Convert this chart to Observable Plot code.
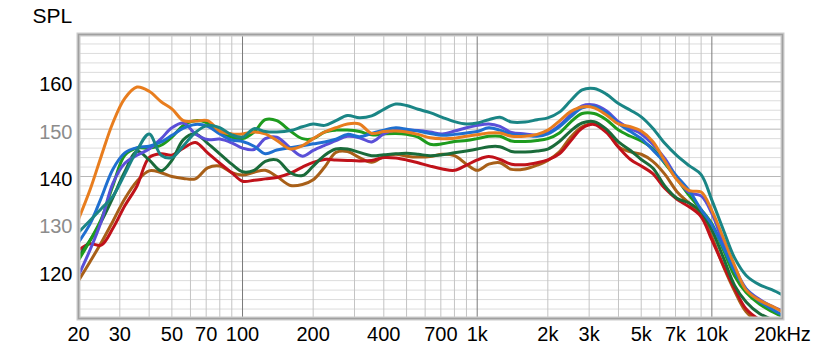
<!DOCTYPE html>
<html><head><meta charset="utf-8">
<script src="https://cdn.jsdelivr.net/npm/d3@7"></script>
<script src="https://cdn.jsdelivr.net/npm/@observablehq/plot@0.6"></script>
<style>body{margin:0;background:#fff}</style>
</head><body><div id="chart"></div>
<script>
const freqs = [20,22.4,25,28,31.5,35.5,40,45,50,56,63,71,80,90,100,112,125,140,160,180,200,224,250,280,315,355,400,450,500,560,630,710,800,900,1000,1120,1250,1400,1600,1800,2000,2240,2500,2800,3150,3550,4000,4500,5000,5600,6300,7100,8000,9000,10000,11200,12500,14000,16000,18000,20000];

const orange = [131.0,137.2,144.3,151.3,156.5,158.9,158.0,155.8,154.3,151.8,151.7,151.8,149.6,149.0,149.0,149.4,149.0,147.6,145.8,146.5,148.0,149.4,150.3,151.1,151.1,149.1,149.5,149.6,149.4,148.9,148.2,148.0,148.1,148.5,148.8,149.2,149.2,148.5,148.5,148.9,149.8,151.7,153.7,154.7,154.5,153.0,151.1,150.5,149.6,147.4,143.3,139.3,137.0,136.7,132.8,127.0,121.2,116.0,113.8,112.6,111.4];
const teal = [128.2,130.7,133.2,135.8,140.5,145.5,149.0,144.5,144.0,146.5,149.3,150.8,150.3,148.8,148.3,150.1,149.5,149.4,149.7,150.5,151.1,150.8,151.8,152.9,152.4,152.8,154.2,155.3,155.0,154.2,153.5,152.5,151.6,151.1,151.3,152.0,152.5,151.5,151.5,152.0,152.4,153.6,156.0,158.3,158.6,157.4,155.4,154.0,152.6,150.2,147.0,144.4,142.3,140.4,135.0,128.7,122.8,119.1,117.1,116.1,115.0];
const blue = [126.1,130.0,135.5,141.5,145.0,146.1,146.4,147.3,148.7,150.2,151.0,150.6,149.0,147.7,147.4,146.4,144.8,145.6,146.1,146.5,146.9,147.3,147.9,148.9,148.4,149.1,149.8,150.3,150.0,149.6,149.1,148.7,148.9,149.2,149.5,150.3,149.8,148.9,148.7,148.5,149.0,150.5,152.6,154.5,154.8,153.5,151.2,149.5,148.0,145.6,143.0,140.0,137.0,133.0,129.8,125.0,120.0,116.2,113.6,112.0,110.7];
const purple = [119.1,124.5,130.5,138.5,142.8,144.5,145.8,148.0,150.3,151.3,149.0,147.8,147.9,147.1,146.0,145.7,148.0,148.3,146.0,144.3,145.5,146.6,147.6,148.5,148.2,147.3,149.0,149.8,149.8,149.7,149.4,149.0,149.6,150.3,150.8,151.1,150.6,149.3,149.0,148.7,149.2,150.8,153.0,154.9,155.1,153.9,151.6,150.1,149.0,146.8,143.8,139.8,136.6,135.9,132.2,125.8,120.8,116.3,114.0,112.6,111.6];
const green = [122.3,126.5,131.0,138.0,144.5,146.0,146.0,146.6,148.3,150.8,151.8,151.3,149.5,148.3,148.0,149.4,152.0,151.8,149.6,148.0,148.0,149.4,149.8,149.8,149.5,148.8,149.0,149.1,148.9,148.3,146.8,146.9,147.4,147.6,148.0,148.5,148.5,147.5,147.4,147.6,148.0,149.2,151.5,153.3,153.3,152.0,149.8,148.5,147.5,145.9,142.8,139.5,136.0,133.0,130.0,124.5,119.0,115.5,113.0,111.5,110.4];
const darkGreen = [123.1,126.5,130.5,135.5,141.0,145.3,143.5,141.2,143.4,147.8,149.0,147.0,144.8,142.6,141.0,141.3,143.2,143.5,140.8,140.2,142.2,144.5,145.8,145.8,145.1,144.4,144.6,144.8,144.9,144.7,144.4,144.6,145.0,145.4,145.8,146.3,146.3,145.3,145.2,145.4,145.8,147.4,149.6,151.3,151.6,150.0,147.3,145.5,143.6,141.8,138.0,135.4,134.4,132.5,128.7,122.8,117.0,113.5,111.0,109.8,109.0];
const red = [124.4,125.8,125.5,129.0,133.8,138.0,144.0,144.8,144.5,146.0,147.2,145.0,142.8,140.8,139.0,139.2,139.5,139.8,140.7,142.0,143.0,143.6,143.5,143.4,143.3,143.4,144.0,143.9,143.5,142.9,142.2,141.6,141.3,142.4,143.5,144.2,143.6,142.6,142.5,142.9,143.5,144.8,147.5,150.2,151.0,149.3,146.2,143.6,142.2,140.6,137.5,135.2,133.6,131.5,126.6,121.2,116.3,112.0,109.7,108.5,107.5];
const brown = [118.0,122.0,126.0,130.5,135.3,139.0,141.2,140.8,140.0,139.6,139.5,141.8,142.2,140.8,140.3,140.9,141.3,140.0,138.1,138.3,139.3,142.0,145.1,145.3,144.0,143.0,144.2,144.7,144.3,144.1,144.2,144.7,144.4,142.6,141.3,142.6,142.9,141.5,141.6,142.4,143.4,145.2,148.3,150.5,151.2,149.8,146.3,145.2,144.7,143.2,140.5,136.8,134.4,132.0,127.2,121.0,115.8,111.4,109.0,107.8,107.0];

const seriesNames = ["brown","red","darkGreen","green","purple","blue","orange","teal"];
const seriesColors = ["#a85f18","#c0121a","#1a6b3a","#1e9b1e","#5a4fd8","#1f6fd0","#e87d1e","#1a8585"];
const seriesValues = [brown, red, darkGreen, green, purple, blue, orange, teal];

const xTicks = [20,30,50,70,100,200,400,700,1000,2000,3000,5000,7000,10000,20000];
const xTickLabels = ["20","30","50","70","100","200","400","700","1k","2k","3k","5k","7k","10k","20kHz"];
const yTicks = [120,130,140,150,160];
const yTickColors = ["#000","#8c8c8c","#000","#8c8c8c","#000"];

const xMinor = [30,40,50,60,70,80,90,200,300,400,500,600,700,800,900,2000,3000,4000,5000,6000,7000,8000,9000];
const xMajor = [100,1000,10000];
const yMinor = d3.range(112,170,2).filter(v => v % 10 !== 0);
const yMajor = [120,130,140,150,160];

const lines = seriesValues.map((vals, k) =>
  Plot.line(vals, {x: (d, i) => freqs[i], y: d => d, stroke: seriesColors[k], strokeWidth: 3, curve: "catmull-rom", clip: true})
);

const chart = Plot.plot({
  width: 821, height: 358,
  marginLeft: 78, marginRight: 39, marginTop: 34, marginBottom: 40,
  style: {fontFamily: "'Liberation Sans', Arial, sans-serif", background: "#fff"},
  x: {type: "log", domain: [20, 20000], axis: null},
  y: {domain: [110, 170], axis: null},
  marks: [
    Plot.ruleY(yMinor, {stroke: "#dcdcdc", strokeWidth: 1}),
    Plot.ruleY(yMajor, {stroke: "#b8b8b8", strokeWidth: 1}),
    Plot.ruleX(xMinor, {stroke: "#c4c4c4", strokeWidth: 1}),
    Plot.ruleX(xMajor, {stroke: "#7a7a7a", strokeWidth: 1}),
    ...lines,
    Plot.frame({stroke: "#cccccc", strokeWidth: 4}),
    Plot.frame({stroke: "#a0a0a0", strokeWidth: 1.5}),
    Plot.text(yTicks, {y: d => d, text: d => String(d), frameAnchor: "left", dx: -6, dy: 3, textAnchor: "end", fontSize: 20, fill: (d, i) => yTickColors[i]}),
    Plot.text(xTicks, {x: d => d, text: (d, i) => xTickLabels[i], frameAnchor: "bottom", dy: 22, fontSize: 20, fill: "#000"}),
    Plot.text(["SPL"], {text: d => d, frameAnchor: "top-left", dx: -46, dy: -26, textAnchor: "start", fontSize: 21, fill: "#000"})
  ]
});
document.getElementById("chart").appendChild(chart);
</script>
</body></html>
